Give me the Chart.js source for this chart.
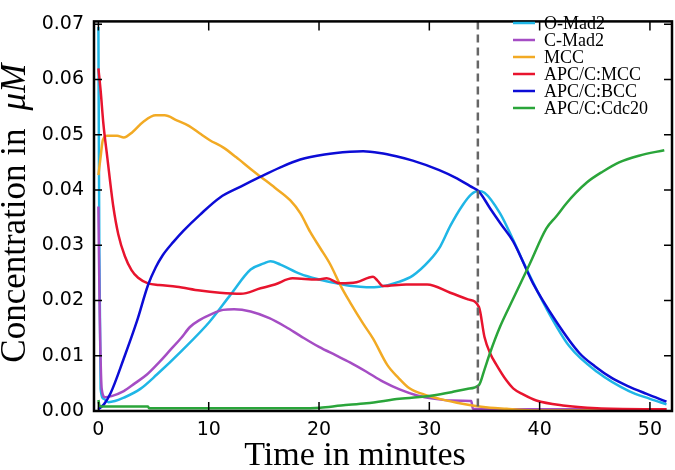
<!DOCTYPE html>
<html>
<head>
<meta charset="utf-8">
<script src="https://cdn.jsdelivr.net/npm/chart.js@4.4.1/dist/chart.umd.min.js"></script>
<style>
html,body{margin:0;padding:0;background:#fff;}
#wrap{width:675px;height:470px;position:relative;}
</style>
</head>
<body>
<div id="wrap"><canvas id="c" width="675" height="470"></canvas></div>
<script>
// ---- data ----
const seriesNames = ['O-Mad2', 'C-Mad2', 'MCC', 'APC/C:MCC', 'APC/C:BCC', 'APC/C:Cdc20'];
const seriesColors = ['#1fb6e6', '#a54dc4', '#f2aa24', '#e8142e', '#0c0cd6', '#2aa53a'];

const xTicks = [0, 10, 20, 30, 40, 50];
const yTicks = [0, 0.01, 0.02, 0.03, 0.04, 0.05, 0.06, 0.07];
const divisionTime = 34.4;

const oMad2T = [0, 0.08, 0.2, 0.5, 0.9, 1.5, 2.3, 3.8, 5.3, 7.5, 10.1, 12, 13.8, 15, 15.6, 16.5, 18.3, 20, 21.6, 23, 24.3, 25.5, 27.3, 28.5, 30, 31, 31.9, 33, 33.8, 34.4, 35, 36.4, 37.5, 38.6, 40.6, 42.7, 45.2, 48.1, 50, 51.5];
const oMad2V = [0.0695, 0.03, 0.004, 0.0022, 0.0016, 0.0018, 0.0024, 0.004, 0.0066, 0.0108, 0.0162, 0.0211, 0.0256, 0.0267, 0.0271, 0.0265, 0.0248, 0.0238, 0.0231, 0.0226, 0.0224, 0.0225, 0.0234, 0.0245, 0.0272, 0.0298, 0.0335, 0.0372, 0.0392, 0.0398, 0.0395, 0.0358, 0.0314, 0.0266, 0.0186, 0.0117, 0.0071, 0.0036, 0.0022, 0.0012];

const cMad2T = [0, 0.1, 0.3, 0.6, 1.2, 2.3, 3.3, 4.4, 5.5, 6.5, 7.5, 8.3, 9.2, 10.1, 11.3, 12.3, 13.8, 15.5, 17, 18.3, 20, 21.5, 22.8, 24.3, 25.8, 27.3, 28.9, 30.5, 31.9, 33.8, 33.95, 36, 40, 45, 51.5];
const cMad2V = [0.037, 0.02, 0.004, 0.0025, 0.0027, 0.0036, 0.005, 0.0066, 0.0088, 0.011, 0.0132, 0.0152, 0.0165, 0.0174, 0.0183, 0.0184, 0.018, 0.0168, 0.0152, 0.0136, 0.0116, 0.0101, 0.0088, 0.0071, 0.0053, 0.0039, 0.0028, 0.0022, 0.0019, 0.0018, 0.0004, 0.0003, 0.0003, 0.0003, 0.0003];

const mccT = [0, 0.2, 0.4, 0.8, 1.7, 2.3, 3.1, 4.1, 5.2, 6, 7.1, 8.2, 9.2, 10.1, 11.3, 12.5, 13.8, 14.7, 16, 17.4, 18.3, 19.2, 20.1, 21, 22, 22.8, 24, 24.9, 26.2, 27.2, 28.2, 29.5, 30.9, 32.5, 33.9, 35.5, 37, 38.5, 40, 45, 51.5];
const mccV = [0.0427, 0.046, 0.049, 0.0498, 0.0498, 0.0495, 0.0505, 0.0524, 0.0535, 0.0535, 0.0526, 0.0516, 0.0502, 0.049, 0.0477, 0.0459, 0.0438, 0.0424, 0.0404, 0.0381, 0.0358, 0.0324, 0.0295, 0.0266, 0.0225, 0.0197, 0.0158, 0.0131, 0.0083, 0.006, 0.0041, 0.003, 0.0022, 0.0015, 0.001, 0.0006, 0.0004, 0.0002, 0.0001, 0.0001, 0.0001];

const apcMccT = [0, 0.2, 0.45, 0.8, 1.35, 1.8, 2.4, 3.0, 3.6, 4.5, 5.5, 7.1, 9.2, 11, 12.9, 14.7, 16, 17.6, 19.8, 20.7, 21.9, 23.4, 24.9, 25.3, 25.8, 27.9, 29.8, 31.9, 33.5, 34.5, 35, 35.5, 36.1, 37, 37.6, 38.5, 39.7, 42.1, 45.2, 51.5];
const apcMccV = [0.062, 0.058, 0.052, 0.046, 0.037, 0.032, 0.028, 0.0255, 0.0241, 0.0231, 0.0228, 0.0225, 0.0218, 0.0214, 0.0212, 0.0222, 0.0229, 0.024, 0.0238, 0.024, 0.0231, 0.0233, 0.0243, 0.0236, 0.0226, 0.0229, 0.0229, 0.0214, 0.0202, 0.0188, 0.0134, 0.0105, 0.0083, 0.0055, 0.0041, 0.003, 0.0019, 0.001, 0.0005, 0.0003];

const apcBccT = [0, 0.5, 1.1, 2.3, 3.5, 4.5, 5.2, 5.8, 6.8, 7.7, 9.2, 11, 12.9, 14.7, 16.5, 18.3, 20.5, 22.8, 24, 25.5, 27, 28.5, 30.9, 32.5, 33.7, 34.5, 35.5, 36.5, 37.6, 39.4, 41.5, 43.6, 45, 46.6, 48, 49.7, 51.5];
const apcBccV = [0.0003, 0.0012, 0.0032, 0.0095, 0.0163, 0.0228, 0.026, 0.0281, 0.0306, 0.0326, 0.0355, 0.0386, 0.0406, 0.0424, 0.0441, 0.0455, 0.0464, 0.0469, 0.047, 0.0467, 0.0461, 0.0453, 0.0436, 0.0421, 0.0407, 0.0397, 0.0367, 0.0338, 0.0307, 0.0231, 0.0162, 0.0105, 0.0081, 0.0059, 0.0045, 0.0031, 0.0017];

const cdc20T = [0, 0.1, 0.3, 4.5, 4.6, 18, 20.1, 22, 24.3, 27.3, 30.3, 32, 33.4, 34.5, 35, 35.5, 36.4, 37.6, 39.1, 40.6, 41.5, 42.4, 43.3, 44.3, 45.7, 47.2, 49, 51.3];
const cdc20V = [0.002, 0.001, 0.0008, 0.0008, 0.0005, 0.0005, 0.0006, 0.001, 0.0014, 0.0022, 0.0028, 0.0034, 0.004, 0.0047, 0.0075, 0.0105, 0.0152, 0.0203, 0.0266, 0.033, 0.0352, 0.0375, 0.0395, 0.0414, 0.0433, 0.045, 0.0462, 0.0472];

const seriesT = [oMad2T, cMad2T, mccT, apcMccT, apcBccT, cdc20T];
const seriesV = [oMad2V, cMad2V, mccV, apcMccV, apcBccV, cdc20V];

// ---- chart ----
const datasets = seriesNames.map((name, i) => ({
  label: name,
  data: seriesT[i].map((t, k) => ({x: t, y: seriesV[i][k]})),
  borderColor: seriesColors[i],
  backgroundColor: seriesColors[i],
  borderWidth: 2.5,
  pointRadius: 0,
  fill: false,
  cubicInterpolationMode: 'monotone',
  order: -i
}));

const SERIF = '"Liberation Serif", "Times New Roman", serif';

const decoPlugin = {
  id: 'deco',
  afterDatasetsDraw(chart) {
    const ctx = chart.ctx, a = chart.chartArea, xs = chart.scales.x;
    const px = xs.getPixelForValue(divisionTime);
    ctx.save();
    ctx.strokeStyle = '#666666';
    ctx.lineWidth = 2.5;
    ctx.setLineDash([8, 5]);
    ctx.beginPath();
    ctx.moveTo(px, a.top);
    ctx.lineTo(px, a.bottom);
    ctx.stroke();
    ctx.restore();
  },
  afterDraw(chart) {
    const ctx = chart.ctx, a = chart.chartArea, xs = chart.scales.x, ys = chart.scales.y;
    ctx.save();
    // frame
    ctx.strokeStyle = '#000';
    ctx.lineWidth = 2.5;
    ctx.strokeRect(a.left, a.top, a.right - a.left, a.bottom - a.top);
    // inward ticks
    ctx.lineWidth = 1.5;
    ctx.beginPath();
    xTicks.forEach(v => {
      const p = xs.getPixelForValue(v);
      ctx.moveTo(p, a.bottom); ctx.lineTo(p, a.bottom - 9);
      ctx.moveTo(p, a.top); ctx.lineTo(p, a.top + 9);
    });
    yTicks.forEach(v => {
      const p = ys.getPixelForValue(v);
      ctx.moveTo(a.left, p); ctx.lineTo(a.left + 8, p);
      ctx.moveTo(a.right, p); ctx.lineTo(a.right - 8, p);
    });
    ctx.stroke();
    // legend
    ctx.font = '18px ' + SERIF;
    ctx.textBaseline = 'middle';
    ctx.textAlign = 'left';
    chart.data.datasets.forEach((ds, i) => {
      const y = 23 + i * 17;
      ctx.strokeStyle = ds.borderColor;
      ctx.lineWidth = 2.5;
      ctx.beginPath();
      ctx.moveTo(513, y); ctx.lineTo(535, y);
      ctx.stroke();
      ctx.fillStyle = '#000';
      ctx.fillText(ds.label, 544, y + 1);
    });
    // x title
    ctx.fillStyle = '#000';
    ctx.font = '34px ' + SERIF;
    ctx.textAlign = 'center';
    ctx.textBaseline = 'alphabetic';
    ctx.fillText('Time in minutes', 355, 465);
    // y title (rotated, mixed upright/italic)
    const cy = (a.top + a.bottom) / 2 - 3;
    ctx.translate(25, cy);
    ctx.rotate(-Math.PI / 2);
    const part1 = 'Concentration in';
    const part2 = 'μM';
    ctx.font = '35px ' + SERIF;
    const w1 = ctx.measureText(part1).width;
    ctx.font = 'italic 35px ' + SERIF;
    const w2 = ctx.measureText(part2).width;
    const gap = 18;
    const total = w1 + gap + w2;
    ctx.textAlign = 'left';
    ctx.font = '35px ' + SERIF;
    ctx.fillText(part1, -total / 2, 0);
    ctx.font = 'italic 35px ' + SERIF;
    ctx.fillText(part2, -total / 2 + w1 + gap, 0);
    ctx.restore();
  }
};

new Chart(document.getElementById('c'), {
  type: 'line',
  data: { datasets },
  options: {
    responsive: false,
    animation: false,
    maintainAspectRatio: false,
    layout: { padding: { top: 2, right: 3, left: 0, bottom: 0 } },
    plugins: { legend: { display: false }, tooltip: { enabled: false } },
    scales: {
      x: {
        type: 'linear',
        min: -0.4,
        max: 52,
        afterBuildTicks: s => { s.ticks = xTicks.map(v => ({value: v})); },
        afterFit: s => { s.height = 59; },
        grid: { display: false, drawTicks: false },
        border: { display: false },
        ticks: {
          color: '#000',
          padding: 8,
          maxRotation: 0,
          font: { family: '"DejaVu Sans", sans-serif', size: 19 },
          callback: v => String(v)
        }
      },
      y: {
        type: 'linear',
        min: 0,
        max: 0.0705,
        afterBuildTicks: s => { s.ticks = yTicks.map(v => ({value: v})); },
        afterFit: s => { s.width = 94; },
        grid: { display: false, drawTicks: false },
        border: { display: false },
        ticks: {
          color: '#000',
          padding: 10,
          font: { family: '"DejaVu Sans", sans-serif', size: 19 },
          callback: v => Number(v).toFixed(2)
        }
      }
    }
  },
  plugins: [decoPlugin]
});
</script>
</body>
</html>
